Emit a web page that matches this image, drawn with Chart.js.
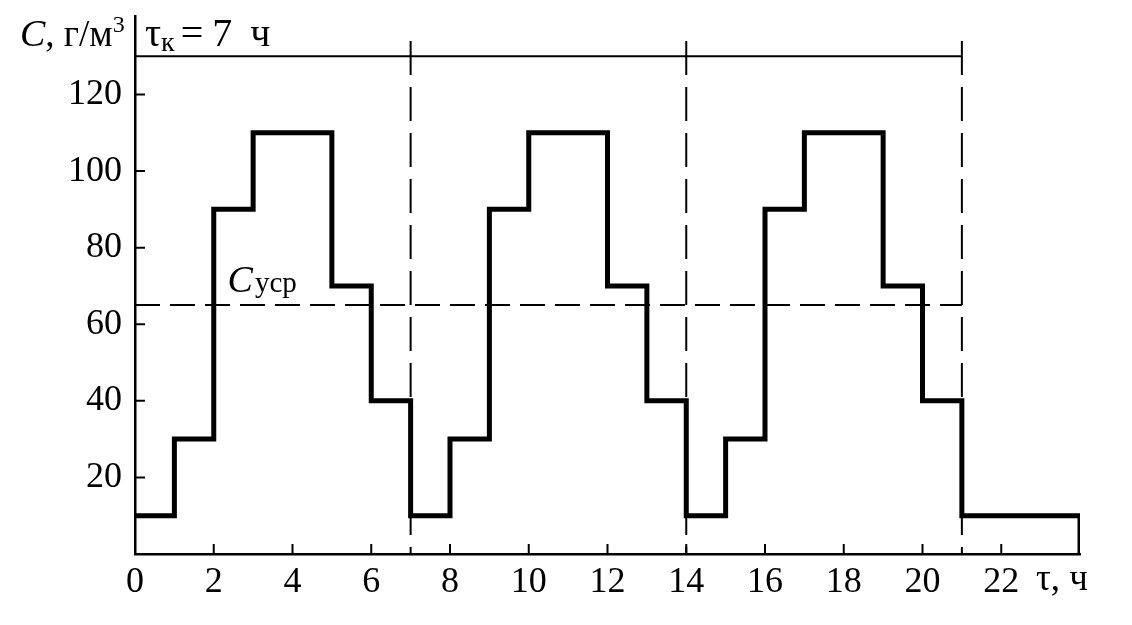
<!DOCTYPE html>
<html lang="ru">
<head>
<meta charset="utf-8">
<title>C(τ)</title>
<script src="https://cdn.jsdelivr.net/npm/chart.js@4.4.1/dist/chart.umd.min.js"></script>
<style>
  html, body { margin: 0; padding: 0; background: #fff; }
  #chart { display: block; }
</style>
</head>
<body>
<canvas id="chart" width="1132" height="625"></canvas>
<script>
// step starts (hours) and concentration on each step, г/м3 (last point closes the step to 0)
const hours = [0, 1, 2, 3, 5, 6, 7, 8, 9, 10, 12, 13, 14, 15, 16, 17, 19, 20, 21, 24];
const conc  = [10, 30, 90, 110, 70, 40, 10, 30, 90, 110, 70, 40, 10, 30, 90, 110, 70, 40, 10, 0];
const cycleMarks = [7, 14, 21];   // τк = 7 ч
const avgConc = 65;               // Cуср
const topLevel = 130;
const markTop = 134;
const xTicks = [0, 2, 4, 6, 8, 10, 12, 14, 16, 18, 20, 22];
const yTicks = [20, 40, 60, 80, 100, 120];

const serif = "'Liberation Serif', 'DejaVu Serif', serif";

function seg(x0, y0, x1, y1) {
    return [{ x: x0, y: y0 }, { x: x1, y: y1 }];
}

const datasets = [{
    data: hours.map((h, i) => ({ x: h, y: conc[i] })),
    borderColor: '#000',
    borderWidth: 5,
    borderJoinStyle: 'miter',
    stepped: 'before',
    pointRadius: 0,
    fill: false
}, {
    data: seg(0, avgConc, cycleMarks[cycleMarks.length - 1], avgConc),
    borderColor: '#000',
    borderWidth: 2,
    borderDash: [25, 10],
    pointRadius: 0
}, {
    data: seg(0, topLevel, cycleMarks[cycleMarks.length - 1], topLevel),
    borderColor: '#000',
    borderWidth: 2,
    pointRadius: 0
}];

cycleMarks.forEach(m => {
    datasets.push({
        data: seg(m, markTop, m, 0),
        borderColor: '#000',
        borderWidth: 2,
        borderDash: [34, 12],
        pointRadius: 0
    });
});

// inward tick marks and the text labels
const annotations = {
    id: 'annotations',
    afterDraw(chart) {
        const ctx = chart.ctx;
        const xs = chart.scales.x;
        const ys = chart.scales.y;
        const area = chart.chartArea;

        ctx.save();
        ctx.strokeStyle = '#000';
        ctx.lineWidth = 2;
        ctx.beginPath();
        xTicks.slice(1).forEach(v => {
            const px = xs.getPixelForValue(v);
            ctx.moveTo(px, area.bottom);
            ctx.lineTo(px, area.bottom - 10);
        });
        yTicks.forEach(v => {
            const py = ys.getPixelForValue(v);
            ctx.moveTo(area.left, py);
            ctx.lineTo(area.left + 10, py);
        });
        ctx.stroke();

        ctx.fillStyle = '#000';
        ctx.textBaseline = 'alphabetic';
        ctx.textAlign = 'left';

        function run(parts, x, y) {
            parts.forEach(p => {
                ctx.font = p.font;
                ctx.fillText(p.text, x, y + (p.dy || 0));
                x += ctx.measureText(p.text).width + (p.gap || 0);
            });
        }

        // axis title C, г/м3
        run([
            { text: 'C', font: 'italic 38px ' + serif },
            { text: ', г/м', font: '37px ' + serif },
            { text: '3', font: '24px ' + serif, dy: -14 }
        ], 20, 46);

        // τк = 7 ч
        run([
            { text: 'τ', font: '40px ' + serif },
            { text: 'к', font: '28px ' + serif, dy: 5, gap: 6 },
            { text: '=', font: '40px ' + serif, gap: 9 },
            { text: '7', font: '40px ' + serif, gap: 18 },
            { text: 'ч', font: '40px ' + serif }
        ], 145, 46);

        // Cуср
        const ay = ys.getPixelForValue(avgConc) - 13;
        run([
            { text: 'C', font: 'italic 38px ' + serif, gap: 2 },
            { text: 'уср', font: '29px ' + serif }
        ], xs.getPixelForValue(2.35), ay);

        // τ, ч
        run([
            { text: 'τ, ч', font: '37px ' + serif }
        ], 1036, 590);

        ctx.restore();
    }
};

new Chart(document.getElementById('chart'), {
    type: 'line',
    data: { datasets: datasets },
    options: {
        responsive: false,
        animation: false,
        layout: { padding: { top: 16, right: 52, left: 0, bottom: 0 } },
        plugins: {
            legend: { display: false },
            tooltip: { enabled: false }
        },
        elements: { line: { tension: 0 } },
        scales: {
            x: {
                type: 'linear',
                min: 0,
                max: 24,
                afterBuildTicks: s => { s.ticks = xTicks.map(v => ({ value: v })); },
                afterFit: s => { s.height = 71; s.paddingLeft = 0; s.paddingRight = 0; },
                grid: { display: true, drawOnChartArea: false, drawTicks: false },
                border: { display: true, color: '#000', width: 2.5 },
                ticks: {
                    color: '#000',
                    padding: 7,
                    maxRotation: 0,
                    autoSkip: false,
                    font: { family: serif, size: 36 }
                }
            },
            y: {
                type: 'linear',
                min: 0,
                max: 140.5,
                afterBuildTicks: s => { s.ticks = yTicks.map(v => ({ value: v })); },
                afterFit: s => { s.width = 135; s.paddingTop = 0; s.paddingBottom = 0; },
                grid: { display: true, drawOnChartArea: false, drawTicks: false },
                border: { display: true, color: '#000', width: 2.5 },
                ticks: {
                    color: '#000',
                    padding: 13,
                    autoSkip: false,
                    font: { family: serif, size: 36 }
                }
            }
        }
    },
    plugins: [annotations]
});
</script>
</body>
</html>
